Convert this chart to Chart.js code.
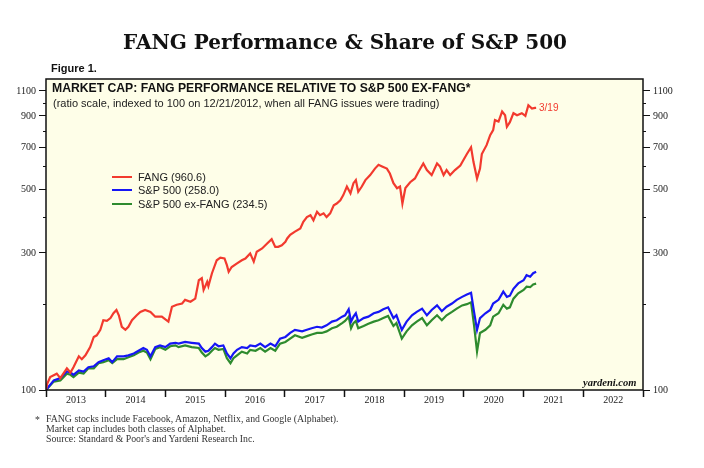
<!DOCTYPE html>
<html>
<head>
<meta charset="utf-8">
<script src="https://cdn.jsdelivr.net/npm/chart.js@4.4.1/dist/chart.umd.min.js"></script>
<style>
  html, body { margin:0; padding:0; background:#fff; }
  #wrap { position:relative; width:704px; height:468px; overflow:hidden; }
  #c { position:absolute; left:0; top:0; }
  .t { position:absolute; white-space:nowrap; color:#111; }
  .sw { position:absolute; width:20px; height:2px; }
</style>
</head>
<body>
<div id="wrap">
  <canvas id="c" width="704" height="468"></canvas>
  <div class="t" id="title" style="left:0;width:690px;text-align:center;top:30px;font:bold 20px 'DejaVu Serif';line-height:24px;">FANG Performance &amp; Share of S&amp;P 500</div>
  <div class="t" style="left:51px;top:61px;font:bold 11px 'Liberation Sans';line-height:14px;">Figure 1.</div>
  <div class="t" style="left:52px;top:81px;font:bold 12.2px 'Liberation Sans';line-height:14px;">MARKET CAP: FANG PERFORMANCE RELATIVE TO S&amp;P 500 EX-FANG*</div>
  <div class="t" style="left:53px;top:96px;font:11px 'Liberation Sans';line-height:14px;color:#222;">(ratio scale, indexed to 100 on 12/21/2012, when all FANG issues were trading)</div>
  <div class="sw" style="left:112px;top:176px;background:#f23a2e;"></div>
  <div class="t" style="left:138px;top:170px;font:11px 'Liberation Sans';line-height:14px;color:#222;">FANG (960.6)</div>
  <div class="sw" style="left:112px;top:189px;background:#1616f5;"></div>
  <div class="t" style="left:138px;top:183px;font:11px 'Liberation Sans';line-height:14px;color:#222;">S&amp;P 500 (258.0)</div>
  <div class="sw" style="left:112px;top:203px;background:#2e8b2e;"></div>
  <div class="t" style="left:138px;top:197px;font:11px 'Liberation Sans';line-height:14px;color:#222;">S&amp;P 500 ex-FANG (234.5)</div>
  <div class="t" style="left:539px;top:101px;font:10px 'Liberation Sans';line-height:14px;color:#f23a2e;">3/19</div>
  <div class="t" style="left:583px;top:376px;font:italic bold 10.5px 'Liberation Serif';line-height:14px;color:#111;">yardeni.com</div>
  <div class="t" style="left:35px;top:414px;font:9.8px 'Liberation Serif';line-height:12px;color:#333;">*</div>
  <div class="t" style="left:46px;top:414px;font:9.8px 'Liberation Serif';line-height:10.2px;color:#333;">FANG stocks include Facebook, Amazon, Netflix, and Google (Alphabet).<br>Market cap includes both classes of Alphabet.<br>Source: Standard &amp; Poor's and Yardeni Research Inc.</div>
</div>
<script>
// ---- data (decimal years, index values) ----
const fangDates = [2013.00,2013.02,2013.07,2013.18,2013.24,2013.35,2013.41,2013.46,2013.55,2013.60,2013.66,2013.74,2013.80,2013.85,2013.91,2013.96,
2014.02,2014.08,2014.13,2014.18,2014.22,2014.27,2014.33,2014.38,2014.44,2014.52,2014.58,2014.66,2014.75,2014.83,2014.94,
2015.00,2015.05,2015.11,2015.19,2015.28,2015.33,2015.42,2015.50,2015.56,2015.61,2015.64,2015.70,2015.72,2015.78,2015.86,2015.92,2015.99,
2016.03,2016.06,2016.11,2016.20,2016.28,2016.34,2016.42,2016.48,2016.53,2016.62,2016.70,2016.78,2016.84,2016.89,2016.95,
2017.01,2017.04,2017.09,2017.17,2017.26,2017.31,2017.37,2017.43,2017.48,2017.54,2017.59,2017.65,2017.70,2017.76,2017.82,2017.87,2017.93,2017.98,
2018.04,2018.10,2018.15,2018.19,2018.23,2018.29,2018.35,2018.43,2018.51,2018.57,2018.63,2018.71,2018.76,2018.82,2018.88,2018.93,2018.97,
2019.02,2019.10,2019.18,2019.24,2019.32,2019.38,2019.46,2019.55,2019.60,2019.66,2019.71,2019.77,2019.85,2019.94,2019.99,
2020.05,2020.12,2020.16,2020.22,2020.27,2020.30,2020.38,2020.44,2020.49,2020.52,2020.58,2020.64,2020.69,2020.72,2020.77,2020.83,2020.89,2020.97,
2021.03,2021.08,2021.14,2021.19,2021.21];
const fangValues = [100,105,111,114,110,119,115,120,131,128,132,141,153,155,162,175,
174,178,185,190,182,166,162,166,175,182,187,190,187,180,180,
176,173,195,198,200,206,203,208,241,245,223,238,230,255,283,289,287,
272,258,268,276,283,287,299,280,303,311,323,335,315,315,319,
328,337,347,356,365,385,400,406,390,417,406,412,400,412,440,446,458,477,
511,484,525,538,490,511,538,560,590,608,600,590,567,525,504,511,446,
505,529,545,575,615,583,560,615,600,560,583,560,583,605,631,
663,700,623,545,590,663,712,771,803,870,860,932,905,825,856,920,905,920,
900,980,955,960,960.6];

const spxDates = [2013.00,2013.13,2013.24,2013.35,2013.41,2013.46,2013.55,2013.63,2013.71,2013.80,2013.88,2013.96,
2014.05,2014.11,2014.19,2014.30,2014.38,2014.47,2014.55,2014.63,2014.69,2014.75,2014.83,2014.91,
2015.00,2015.08,2015.17,2015.22,2015.33,2015.44,2015.56,2015.61,2015.67,2015.72,2015.78,2015.83,2015.89,2015.97,
2016.03,2016.09,2016.14,2016.20,2016.28,2016.37,2016.42,2016.51,2016.59,2016.67,2016.76,2016.84,2016.92,
2017.01,2017.09,2017.17,2017.29,2017.37,2017.45,2017.54,2017.62,2017.70,2017.79,2017.87,2017.96,
2018.01,2018.07,2018.11,2018.15,2018.19,2018.23,2018.32,2018.40,2018.49,2018.57,2018.65,2018.73,2018.78,2018.82,2018.87,2018.90,2018.96,
2019.04,2019.13,2019.21,2019.30,2019.38,2019.46,2019.55,2019.63,2019.71,2019.80,2019.88,2019.97,
2020.05,2020.12,2020.17,2020.22,2020.27,2020.36,2020.44,2020.49,2020.58,2020.66,2020.72,2020.77,2020.83,2020.91,
2021.00,2021.05,2021.11,2021.16,2021.21];
const spxValues = [100,108,110,116,115,113,117,116,120,121,125,127,
129,125,131,131,132,134,137,140,138,131,141,143,
141,145,146,145,147,146,145,140,136,137,141,145,142,143,
134,129,134,138,141,140,143,142,145,141,145,142,151,
153,158,162,160,162,164,166,165,168,173,175,180,
182,191,173,180,185,173,178,180,185,187,191,194,185,178,182,175,162,
173,182,187,192,182,190,197,188,195,200,206,211,
215,218,187,162,178,185,190,200,206,220,211,213,225,235,
241,251,248,255,258];
const exFangValues = [100,107,108,114,113,111,115,114,119,119,124,125,
127,124,128,128,130,132,135,137,135,128,139,141,
138,142,143,141,143,141,140,135,131,133,137,140,138,139,
129,124,129,132,136,134,138,137,140,136,140,137,145,
147,151,155,152,154,156,158,158,160,164,166,171,
174,180,164,171,174,164,167,170,173,175,178,181,173,167,171,164,151,
160,168,173,178,168,175,182,175,182,187,192,197,
199,202,168,136,158,162,168,180,185,198,192,194,208,217,
223,229,228,233,234.5];

const yearTicks = [2013,2014,2015,2016,2017,2018,2019,2020,2021,2022,2023];
const yTickValues = [100,200,300,400,500,600,700,800,900,1000,1100];
const yLabelValues = [100,300,500,700,900,1100];

const toXY = (xs, ys) => xs.map((x, i) => ({ x: x, y: ys[i] }));

const frame = {
  id: 'frame',
  beforeDraw(chart) {
    const { ctx, chartArea: a } = chart;
    ctx.save();
    ctx.fillStyle = '#fefee8';
    ctx.fillRect(a.left, a.top, a.right - a.left, a.bottom - a.top);
    ctx.restore();
  },
  afterDraw(chart) {
    const { ctx, chartArea: a } = chart;
    const y = chart.scales.y;
    ctx.save();
    ctx.strokeStyle = '#111';
    ctx.lineWidth = 1.5;
    ctx.strokeRect(a.left, a.top, a.right - a.left, a.bottom - a.top);
    ctx.lineWidth = 1;
    yTickValues.filter(v => !yLabelValues.includes(v)).forEach(v => {
      const py = Math.round(y.getPixelForValue(v)) + 0.5;
      ctx.beginPath();
      ctx.moveTo(a.left - 3, py); ctx.lineTo(a.left, py);
      ctx.moveTo(a.right, py); ctx.lineTo(a.right + 3, py);
      ctx.stroke();
    });
    ctx.restore();
  }
};

const yAxisCommon = (pos, w) => ({
  type: 'logarithmic',
  position: pos,
  min: 100,
  max: 1210,
  afterBuildTicks: s => { s.ticks = yTickValues.map(v => ({ value: v })); },
  afterFit: s => { s.width = w; },
  ticks: {
    autoSkip: false,
    padding: 3,
    color: '#222',
    font: { family: 'Liberation Serif', size: 10 },
    callback: v => yLabelValues.includes(v) ? String(v) : ''
  },
  grid: {
    drawOnChartArea: false,
    drawTicks: true,
    tickLength: 7,
    tickColor: c => (c.tick && yLabelValues.includes(c.tick.value)) ? '#111' : 'rgba(0,0,0,0)',
    tickWidth: 1
  },
  border: { display: false }
});

new Chart(document.getElementById('c'), {
  type: 'line',
  data: {
    datasets: [
      { label: 'FANG', data: toXY(fangDates, fangValues), borderColor: '#f23a2e', borderWidth: 2.2, pointRadius: 0, tension: 0 },
      { label: 'S&P 500', data: toXY(spxDates, spxValues), borderColor: '#1616f5', borderWidth: 2.2, pointRadius: 0, tension: 0 },
      { label: 'S&P 500 ex-FANG', data: toXY(spxDates, exFangValues), borderColor: '#2e8b2e', borderWidth: 2.2, pointRadius: 0, tension: 0 }
    ]
  },
  options: {
    responsive: false,
    animation: false,
    devicePixelRatio: 1,
    layout: { padding: { top: 79, left: 0, right: 0, bottom: 0 } },
    plugins: { legend: { display: false }, tooltip: { enabled: false }, title: { display: false } },
    scales: {
      x: {
        type: 'linear',
        min: 2013,
        max: 2023,
        afterBuildTicks: s => { s.ticks = yearTicks.map(v => ({ value: v })); },
        afterFit: s => { s.height = 78; },
        ticks: {
          autoSkip: false,
          maxRotation: 0,
          padding: -3,
          labelOffset: 29.9,
          color: '#222',
          font: { family: 'Liberation Serif', size: 10 },
          callback: v => v < 2023 ? String(v) : ''
        },
        grid: { drawOnChartArea: false, drawTicks: true, tickLength: 7, tickColor: '#111', tickWidth: 1.5 },
        border: { display: false }
      },
      y: yAxisCommon('left', 46),
      y2: yAxisCommon('right', 61)
    }
  },
  plugins: [frame]
});
</script>
</body>
</html>
